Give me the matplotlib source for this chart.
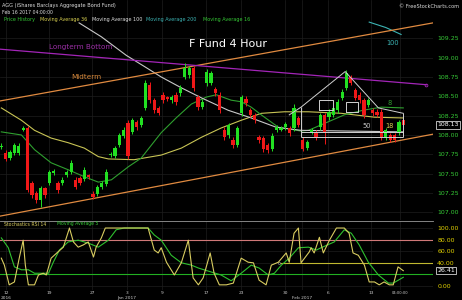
import numpy as np
import matplotlib
matplotlib.use("Agg")
import matplotlib.pyplot as plt

plt.rcParams['font.family'] = 'DejaVu Sans'

# 4 hour candles, Dec 12 2016 .. Feb 16 2017
opens = [107.84, 107.77, 107.70, 107.77, 107.77, 108.07, 108.09, 107.38, 107.25, 107.16,
         107.31, 107.38, 107.51, 107.38, 107.38, 107.48, 107.52, 107.42, 107.44, 107.43,
         107.48, 107.24, 107.24, 107.33, 107.37, 107.74, 107.73, 107.87, 107.99, 108.16,
         108.04, 108.17, 108.13, 108.35, 108.65, 108.45, 108.35, 108.52, 108.49, 108.45,
         108.52, 108.54, 108.75, 108.78, 108.87, 108.49, 108.36, 108.67, 108.67, 108.59,
         108.52, 108.07, 108.00, 107.94, 107.87, 108.28, 108.47, 108.32, 108.26, 107.97,
         107.96, 107.87, 107.82, 108.07, 108.07, 108.10, 108.09, 108.09, 108.22, 107.94,
         107.83, 108.03, 108.03, 108.10, 108.26, 108.23, 108.26, 108.32, 108.48, 108.61,
         108.75, 108.58, 108.52, 108.45, 108.39, 108.32, 108.30, 108.30, 107.97, 108.00,
         108.00, 108.03, 108.19]
closes = [107.86, 107.69, 107.78, 107.87, 107.86, 108.09, 107.29, 107.22, 107.16, 107.31,
          107.22, 107.52, 107.53, 107.29, 107.42, 107.52, 107.64, 107.33, 107.38, 107.55,
          107.46, 107.20, 107.33, 107.38, 107.52, 107.75, 107.83, 108.00, 108.07, 107.73,
          108.19, 108.10, 108.22, 108.67, 108.45, 108.32, 108.29, 108.45, 108.47, 108.49,
          108.43, 108.61, 108.87, 108.86, 108.61, 108.36, 108.43, 108.82, 108.80, 108.54,
          108.32, 107.97, 108.13, 107.87, 108.09, 108.49, 108.41, 108.26, 108.19, 107.93,
          107.82, 107.81, 107.99, 108.10, 108.09, 108.14, 108.03, 108.35, 108.13, 107.82,
          107.91, 108.06, 107.97, 108.26, 108.04, 108.30, 108.35, 108.43, 108.56, 108.80,
          108.67, 108.48, 108.45, 108.26, 108.45, 108.28, 108.26, 107.97, 108.06, 107.94,
          107.94, 108.17, 108.13]
highs = [107.89, 107.80, 107.80, 107.90, 107.89, 108.11, 108.12, 107.40, 107.28, 107.34,
         107.33, 107.55, 107.56, 107.40, 107.45, 107.55, 107.67, 107.45, 107.47, 107.58,
         107.50, 107.27, 107.35, 107.41, 107.56, 107.78, 107.86, 108.03, 108.10, 108.19,
         108.22, 108.19, 108.25, 108.71, 108.68, 108.48, 108.38, 108.55, 108.51, 108.52,
         108.55, 108.64, 108.93, 108.89, 108.89, 108.52, 108.46, 108.85, 108.83, 108.62,
         108.55, 108.10, 108.16, 107.97, 108.12, 108.52, 108.50, 108.35, 108.29, 108.00,
         107.99, 107.90, 108.02, 108.13, 108.12, 108.17, 108.12, 108.40, 108.25, 107.97,
         107.94, 108.09, 108.06, 108.29, 108.29, 108.33, 108.38, 108.46, 108.59, 108.84,
         108.78, 108.61, 108.55, 108.48, 108.48, 108.35, 108.33, 108.33, 108.09, 108.03,
         108.03, 108.20, 108.22]
lows = [107.82, 107.66, 107.67, 107.74, 107.74, 108.05, 107.26, 107.18, 107.12, 107.07,
        107.19, 107.35, 107.48, 107.25, 107.35, 107.45, 107.49, 107.30, 107.35, 107.40,
        107.43, 107.17, 107.21, 107.30, 107.34, 107.71, 107.70, 107.84, 107.96, 107.69,
        108.01, 108.07, 108.10, 108.32, 108.42, 108.28, 108.26, 108.42, 108.44, 108.42,
        108.39, 108.51, 108.72, 108.74, 108.57, 108.32, 108.33, 108.63, 108.64, 108.51,
        108.28, 107.93, 107.96, 107.83, 107.84, 108.25, 108.38, 108.23, 108.16, 107.89,
        107.78, 107.77, 107.79, 108.04, 108.05, 108.07, 107.99, 108.05, 108.10, 107.79,
        107.80, 108.01, 107.94, 108.07, 107.88, 108.20, 108.23, 108.29, 108.45, 108.58,
        108.64, 108.45, 108.42, 108.22, 108.36, 108.25, 108.23, 107.93, 107.94, 107.91,
        107.91, 108.00, 108.10]

# moving averages: (candle index, price)
ma16_x = [0, 4.6, 7.6, 11.4, 15.3, 19.0, 22.2, 25.2, 29.1, 32.0, 36.6, 40.0, 43.5, 46.9,
          49.2, 52.6, 54.9, 57.2, 59.5, 63.4, 65.7, 68.6, 70.3, 74.4, 78.5, 82.8, 87.0, 92.0]
ma16_y = [108.04, 108.00, 107.81, 107.64, 107.55, 107.46, 107.39, 107.42, 107.59, 107.70,
          108.03, 108.22, 108.40, 108.49, 108.52, 108.45, 108.43, 108.36, 108.26, 108.10,
          108.08, 108.05, 108.06, 108.16, 108.26, 108.32, 108.36, 108.35]
ma36_x = [0, 4.6, 7.6, 11.4, 15.3, 19.0, 22.2, 24.5, 30.4, 36.6, 41.2, 45.8, 50.3, 54.9,
          59.5, 64.8, 70.3, 77.8, 85.4, 92.0]
ma36_y = [108.35, 108.19, 108.06, 107.96, 107.90, 107.83, 107.72, 107.69, 107.68, 107.74,
          107.83, 107.97, 108.09, 108.19, 108.28, 108.30, 108.30, 108.28, 108.23, 108.22]
ma100_x = [17.8, 22.9, 28.6, 33.2, 36.6, 41.2, 45.8, 51.9, 57.2, 62.9, 68.6, 80.1, 92.0]
ma100_y = [109.45, 109.27, 109.03, 108.87, 108.75, 108.61, 108.48, 108.32, 108.22, 108.10,
           108.06, 108.05, 108.04]
ma200_x = [84.2, 88.0, 91.5]
ma200_y = [109.46, 109.39, 109.30]

# drawn trend lines (candle index, price)
midterm_x, midterm_y = [-0.3, 98.8], [108.44, 109.45]
channel_lo_x, channel_lo_y = [-0.3, 98.8], [106.95, 108.01]
longterm_x, longterm_y = [-0.3, 97.3], [109.11, 108.65]
tri_x = [65.9, 68.6, 78.7, 86.3, 92.0]
tri_y = [108.26, 108.36, 108.82, 108.35, 108.28]
box1 = (72.8, 76.0, 108.32, 108.45)
box2 = (78.9, 81.7, 108.30, 108.43)
flag_x = [68.6, 92.0]
flag_top, flag_bot = 108.04, 107.97

# stochastic RSI 14 and its 5 period average
srsi_x = [0, 0.7, 1.8, 3.0, 4.1, 5.0, 5.5, 6.2, 7.6, 8.5, 9.6, 10.3, 11.4, 13.0, 14.2, 15.6,
          16.5, 17.6, 18.8, 19.9, 21.1, 21.7, 22.9, 23.8, 33.6, 35.0, 35.9, 36.6, 37.8, 39.6,
          41.2, 42.8, 43.9, 45.1, 46.2, 47.8, 48.7, 49.9, 51.5, 53.1, 54.9, 56.5, 57.7, 59.0,
          60.6, 61.8, 63.4, 65.2, 65.9, 67.0, 68.0, 68.6, 70.5, 70.9, 71.6, 72.8, 73.7, 75.1,
          76.7, 78.5, 79.6, 80.5, 81.7, 83.1, 84.2, 85.4, 86.5, 87.6, 88.8, 89.7, 90.8, 92.0]
srsi_y = [48, 36, 2, 7, 48, 79, 36, 2, 2, 19, 22, 19, 48, 59, 67, 100,
          76, 67, 71, 76, 50, 67, 83, 100, 100, 62, 57, 66, 41, 19,
          40, 79, 14, 2, 14, 57, 22, 2, 2, 5, 48, 41, 40, 10,
          2, 36, 41, 57, 41, 91, 100, 40, 59, 66, 57, 84, 57, 79,
          100, 100, 91, 57, 53, 36, 7, 7, 2, 7, 2, 2, 33, 26.41]
srsi_ma_x = [0, 1.6, 3.0, 4.6, 6.2, 7.6, 10.8, 11.9, 13.3, 15.3, 17.6, 19.9, 22.2, 24.5,
             26.3, 28.1, 33.6, 35.0, 36.6, 38.9, 41.2, 43.5, 45.1, 48.1, 50.3, 52.6, 54.9,
             57.2, 59.0, 61.1, 62.5, 64.1, 65.9, 68.0, 70.3, 72.1, 73.2, 76.2, 78.5, 80.1,
             81.9, 84.0, 86.3, 88.6, 89.7, 92.0]
srsi_ma_y = [83, 66, 33, 28, 28, 22, 22, 41, 62, 76, 79, 74, 67, 79,
             97, 100, 100, 88, 79, 53, 40, 36, 31, 24, 19, 9, 22,
             36, 31, 19, 22, 36, 48, 66, 67, 62, 66, 76, 97, 91,
             71, 41, 19, 5, 5, 15]

tick_pos = [1.1, 11.0, 20.8, 28.8, 36.8, 46.9, 54.9, 65.0, 68.9, 74.8, 84.7, 91.3]
tick_lbl = ['12\n2016', '19', '27', '3\nJan 2017', '9', '17', '23', '30', '\nFeb 2017',
            '6', '13', '04:00:00']
price_ticks = [107.00, 107.25, 107.50, 107.75, 108.00, 108.25, 108.50, 108.75, 109.00, 109.25]
stoch_ticks = [0, 40, 60, 80, 100]

GREEN = '#22e022'
RED = '#f01818'
GRID = '#1e1e1e'

W, H = 462, 300
PW = 433  # plot width in px
fig = plt.figure(figsize=(W / 100, H / 100), dpi=100, facecolor='black')
ax = fig.add_axes([0, 1 - 220 / H, PW / W, 220 / H], facecolor='black')
ax2 = fig.add_axes([0, 1 - 290 / H, PW / W, 69 / H], facecolor='black')
XL = (-0.3, 98.8)

# ---- main panel
n = len(opens)
idx = np.arange(n)
o = np.array(opens)
c = np.array(closes)
cols = np.where(c >= o, GREEN, RED)
ax.vlines(idx, lows, highs, colors=cols, lw=0.7, zorder=3)
body = np.maximum(np.abs(c - o), 0.014)
ax.bar(idx, body, bottom=np.minimum(o, c), width=0.74, color=cols, linewidth=0, zorder=4)

ax.plot(ma36_x, ma36_y, color='#c8c455', lw=0.8, zorder=2)
ax.plot(ma16_x, ma16_y, color='#2f9f2f', lw=0.8, zorder=2)
ax.plot(ma100_x, ma100_y, color='#c8c8c8', lw=0.8, zorder=2)
ax.plot(ma200_x, ma200_y, color='#3cb4b4', lw=0.8, zorder=2)

ax.plot(midterm_x, midterm_y, color='#e08a40', lw=0.9, zorder=2)
ax.plot(channel_lo_x, channel_lo_y, color='#e08a40', lw=0.9, zorder=2)
ax.plot(longterm_x, longterm_y, color='#a325b8', lw=0.9, zorder=2)
ax.plot(longterm_x[-1], longterm_y[-1], 'o', ms=2, mfc='none', mec='#a325b8', mew=0.6)

ax.plot(tri_x, tri_y, color='#d0d0d0', lw=0.7, zorder=5)
for b in (box1, box2):
    ax.plot([b[0], b[1], b[1], b[0], b[0]], [b[2], b[2], b[3], b[3], b[2]],
            color='#d0d0d0', lw=0.7, zorder=5)
ax.hlines([flag_top, flag_bot], flag_x[0], flag_x[1], color='#d0d0d0', lw=0.7, zorder=5)
ax.vlines(flag_x[0], flag_bot, tri_y[1], color='#d0d0d0', lw=0.7, zorder=5)
ax.vlines(flag_x[1], flag_bot, tri_y[-1], color='#d0d0d0', lw=0.7, zorder=5)

ax.set_xlim(*XL)
ax.set_ylim(106.90, 109.746)
ax.set_yticks(price_ticks)
ax.set_yticklabels(['%.2f' % v for v in price_ticks])
ax.set_xticks(tick_pos)
ax.yaxis.tick_right()
ax.tick_params(axis='y', length=0, pad=3, labelsize=4.5, labelcolor='#35c835')
ax.tick_params(axis='x', length=0, labelbottom=False)
ax.grid(color=GRID, lw=0.5, zorder=0)
for s in ax.spines.values():
    s.set_visible(False)

def atext(a, px, py, s, **kw):
    h = 220 if a is ax else 69
    top = 0 if a is ax else 221
    a.text(px / PW, 1 - (py - top) / h, s, transform=a.transAxes, **kw)

atext(ax, 228, 44, 'F Fund 4 Hour', color='white', fontsize=8, ha='center', va='center')
atext(ax, 81, 47, 'Longterm Bottom', color='#9b2fa6', fontsize=5.2, ha='center', va='center')
atext(ax, 86, 77, 'Midterm', color='#d98a3c', fontsize=5.2, ha='center', va='center')
atext(ax, 393, 43, '100', color='#3cb4b4', fontsize=4.8, ha='center', va='center')
atext(ax, 390, 103, '8', color='#2f9f2f', fontsize=4.8, ha='center', va='center')
atext(ax, 367, 126, '50', color='#c8c8c8', fontsize=4.8, ha='center', va='center')
atext(ax, 389, 126, '18', color='#d8d050', fontsize=4.8, ha='center', va='center')
ax.text(1.01, closes[-1], '%.2f' % closes[-1], transform=ax.get_yaxis_transform(),
        color='white', fontsize=4.5, va='center', ha='left',
        bbox=dict(facecolor='black', edgecolor='white', lw=0.5, pad=0.8))

# header
fig.text(2 / W, 1 - 5 / H, 'AGG (iShares Barclays Aggregate Bond Fund)', color='#dddddd',
         fontsize=3.6, va='center')
fig.text(2 / W, 1 - 12 / H, 'Feb 16 2017 04:00:00', color='#dddddd', fontsize=3.3, va='center')
legend = [(4, 'Price History', '#35c835'), (40, 'Moving Average 36', '#d8d050'),
          (92, 'Moving Average 100', '#e0e0e0'), (146, 'Moving Average 200', '#3cb4b4'),
          (203, 'Moving Average 16', '#35c835')]
for px, s, col in legend:
    fig.text(px / W, 1 - 20 / H, s, color=col, fontsize=3.5, va='center')
fig.text(459 / W, 1 - 7 / H, '\u00a9 FreeStockCharts.com', color='#dddddd', fontsize=3.6,
         va='center', ha='right')

# ---- stochastic panel
ax2.axhline(80, color='#d07878', lw=0.8)
ax2.axhline(20, color='#22b022', lw=0.8)
ax2.hlines(40, 63.6, XL[1], color='#c0b830', lw=0.8)
ax2.plot(63.6, 40, 'o', ms=1.5, mfc='black', mec='#aaaaaa', mew=0.4)
ax2.plot(srsi_ma_x, srsi_ma_y, color='#2fc02f', lw=0.8)
ax2.plot(srsi_x, srsi_y, color='#d8cc60', lw=0.8)

ax2.set_xlim(*XL)
ax2.set_ylim(-6.9, 112.1)
ax2.set_yticks(stoch_ticks)
ax2.set_yticklabels(['%.2f' % v for v in stoch_ticks])
ax2.yaxis.tick_right()
ax2.tick_params(axis='y', length=0, pad=3, labelsize=4.5, labelcolor='#e0d000')
ax2.set_xticks(tick_pos)
ax2.set_xticklabels(tick_lbl)
ax2.tick_params(axis='x', length=0, pad=1, labelsize=3.2, labelcolor='#cccccc')
ax2.get_xticklabels()[-1].set_fontsize(2.6)
ax2.grid(color=GRID, lw=0.5, zorder=0)
for s in ax2.spines.values():
    s.set_visible(False)
ax2.spines['top'].set_visible(True)
ax2.spines['top'].set_color('#9a9a9a')
ax2.spines['top'].set_linewidth(0.6)
ax2.text(1.01, srsi_y[-1], '%.2f' % srsi_y[-1], transform=ax2.get_yaxis_transform(),
         color='white', fontsize=4.5, va='center', ha='left',
         bbox=dict(facecolor='black', edgecolor='white', lw=0.5, pad=0.8))
atext(ax2, 4, 224, 'Stochastics RSI 14', color='#d8cc60', fontsize=3.3, va='center')
atext(ax2, 57, 224, 'Moving Average 5', color='#35c835', fontsize=3.3, va='center')

fig.savefig('out.png', dpi=100, facecolor='black')
